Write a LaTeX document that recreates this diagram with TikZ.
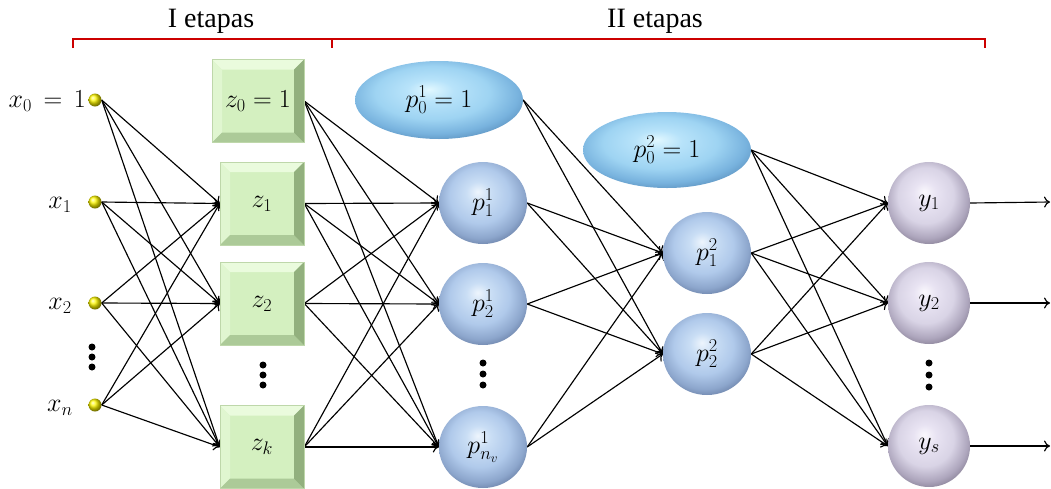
\RequirePackage{fix-cm}
\documentclass[tikz,border=0pt]{standalone}
\usepackage{fontspec}
\setmainfont{Liberation Serif}
\usetikzlibrary{arrows.meta,shapes.geometric}
\definecolor{zface}{RGB}{212,240,192}
\definecolor{ztop}{RGB}{234,251,221}
\definecolor{zleft}{RGB}{224,246,208}
\definecolor{zbot}{RGB}{172,202,152}
\definecolor{zright}{RGB}{146,176,126}
\definecolor{zedge}{RGB}{190,215,170}
\definecolor{bracketred}{RGB}{204,0,0}
\pgfdeclareradialshading{sphblue}{\pgfpoint{-3bp}{7bp}}{rgb(0bp)=(0.93,0.96,0.99); rgb(7bp)=(0.79,0.87,0.96); rgb(17bp)=(0.69,0.79,0.92); rgb(25bp)=(0.55,0.65,0.8); rgb(33bp)=(0.33,0.41,0.56); rgb(50bp)=(0.33,0.41,0.56)}
\pgfdeclareradialshading{ellblue}{\pgfpoint{-3bp}{7bp}}{rgb(0bp)=(0.88,0.97,1); rgb(7bp)=(0.72,0.89,0.98); rgb(17bp)=(0.62,0.83,0.95); rgb(25bp)=(0.47,0.7,0.87); rgb(33bp)=(0.3,0.5,0.68); rgb(50bp)=(0.3,0.5,0.68)}
\pgfdeclareradialshading{sphlav}{\pgfpoint{-3bp}{7bp}}{rgb(0bp)=(0.98,0.97,0.99); rgb(7bp)=(0.91,0.89,0.95); rgb(17bp)=(0.85,0.83,0.9); rgb(25bp)=(0.68,0.65,0.74); rgb(33bp)=(0.43,0.4,0.48); rgb(50bp)=(0.43,0.4,0.48)}
\pgfdeclarelayer{bg}
\pgfsetlayers{bg,main}
\newcommand{\lblsize}{\fontsize{26}{30}\selectfont}
\newcommand{\ttlsize}{\fontsize{28}{32}\selectfont}
\tikzset{
  zbox/.style={rectangle, minimum width=84pt, minimum height=83pt, inner sep=0pt,
    fill=zface, draw=zedge, line width=0.5pt, font=\lblsize,
    path picture={
      \fill[ztop] (path picture bounding box.north west) -- (path picture bounding box.north east)
        -- ([xshift=-10pt,yshift=-10pt]path picture bounding box.north east)
        -- ([xshift=10pt,yshift=-10pt]path picture bounding box.north west) -- cycle;
      \fill[zleft] (path picture bounding box.north west) -- (path picture bounding box.south west)
        -- ([xshift=10pt,yshift=10pt]path picture bounding box.south west)
        -- ([xshift=10pt,yshift=-10pt]path picture bounding box.north west) -- cycle;
      \fill[zbot] (path picture bounding box.south west) -- (path picture bounding box.south east)
        -- ([xshift=-10pt,yshift=10pt]path picture bounding box.south east)
        -- ([xshift=10pt,yshift=10pt]path picture bounding box.south west) -- cycle;
      \fill[zright] (path picture bounding box.north east) -- (path picture bounding box.south east)
        -- ([xshift=-10pt,yshift=10pt]path picture bounding box.south east)
        -- ([xshift=-10pt,yshift=-10pt]path picture bounding box.north east) -- cycle;
    }},
  psph/.style={ellipse, minimum width=88pt, minimum height=82pt, inner sep=0pt, shading=sphblue, font=\lblsize},
  pell/.style={ellipse, minimum width=168pt, minimum height=78pt, inner sep=0pt, shading=ellblue, font=\lblsize},
  ysph/.style={circle, minimum size=82pt, inner sep=0pt, shading=sphlav, font=\lblsize},
  inball/.style={circle, minimum size=13pt, inner sep=0pt, shading=ball, ball color=yellow!95!orange},
  inlbl/.style={font=\lblsize, inner sep=0pt},
  conn/.style={-{To[length=6pt,width=11pt]}, line width=1.15pt, black},
  vdot/.style={circle, fill=black, minimum size=7pt, inner sep=0pt},
  bracket/.style={bracketred, line width=1.5pt},
  ttl/.style={font=\ttlsize, inner sep=0pt}
}
\begin{document}
\begin{tikzpicture}[x=1pt,y=-1pt]
\useasboundingbox (0,0) rectangle (1051,488);
% bracket
\coordinate (b0) at (73,48);
\coordinate (b1) at (73,39);
\coordinate (b2) at (985,39);
\coordinate (b3) at (985,48);
\coordinate (bm1) at (332,39);
\coordinate (bm2) at (332,48);
\draw[bracket] (b0) -- (b1) -- (b2) -- (b3);
\draw[bracket] (bm1) -- (bm2);
\node[ttl] (t1) at (211,21) {I etapas};
\node[ttl] (t2) at (655,21) {II etapas};
% inputs
\node[inball] (x0) at (95,100) {};
\node[inball] (x1) at (95,202) {};
\node[inball] (x2) at (95,303) {};
\node[inball] (xn) at (95,405) {};
\node[inlbl, anchor=east] (lx0) at (86,101) {$x_0\,=\,1$};
\node[inlbl] (lx1) at (60,205) {$x_1$};
\node[inlbl] (lx2) at (60,306) {$x_2$};
\node[inlbl] (lxn) at (60,408) {$x_n$};
\node[vdot] (dx1) at (92,347) {};
\node[vdot] (dx2) at (92,357) {};
\node[vdot] (dx3) at (92,367) {};
% z layer
\node[zbox, minimum width=92pt] (z0) at (258,101) {$z_0=1$};
\node[zbox] (z1) at (262,203.5) {$z_1$};
\node[zbox] (z2) at (262,303.5) {$z_2$};
\node[zbox] (zk) at (262,447) {$z_k$};
\node[vdot] (dz1) at (263,365) {};
\node[vdot] (dz2) at (263,375) {};
\node[vdot] (dz3) at (263,385) {};
% p1 layer
\node[pell] (p10) at (439,100) {$p_0^1=1$};
\node[psph] (p11) at (483,203) {$p_1^1$};
\node[psph] (p12) at (483,304) {$p_2^1$};
\node[psph] (p1n) at (483,447) {$p_{n_v}^1$};
\node[vdot] (dp1) at (483,363) {};
\node[vdot] (dp2) at (483,374) {};
\node[vdot] (dp3) at (483,385) {};
% p2 layer
\node[pell, minimum height=76pt] (p20) at (667,150) {$p_0^2=1$};
\node[psph] (p21) at (707,253) {$p_1^2$};
\node[psph] (p22) at (707,354) {$p_2^2$};
% output layer
\node[ysph] (y1) at (929,203) {$y_1$};
\node[ysph] (y2) at (929,303) {$y_2$};
\node[ysph] (ys) at (929,446) {$y_s$};
\node[vdot] (dy1) at (929,363) {};
\node[vdot] (dy2) at (929,375) {};
\node[vdot] (dy3) at (929,387) {};
\coordinate (o1) at (1050,202);
\coordinate (o2) at (1050,303);
\coordinate (os) at (1050,446);
\begin{pgfonlayer}{bg}
\foreach \s in {x0,x1,x2,xn}{\foreach \t in {z1,z2,zk}{\draw[conn] (\s.east) -- (\t.west);}}
\foreach \s in {z0,z1,z2,zk}{\foreach \t in {p11,p12,p1n}{\draw[conn] (\s.east) -- (\t.west);}}
\foreach \s in {p10,p11,p12,p1n}{\foreach \t in {p21,p22}{\draw[conn] (\s.east) -- (\t.west);}}
\foreach \s in {p20,p21,p22}{\foreach \t in {y1,y2,ys}{\draw[conn] (\s.east) -- (\t.west);}}
\draw[conn] (y1.east) -- (o1);
\draw[conn] (y2.east) -- (o2);
\draw[conn] (ys.east) -- (os);
\end{pgfonlayer}
\end{tikzpicture}
\end{document}
